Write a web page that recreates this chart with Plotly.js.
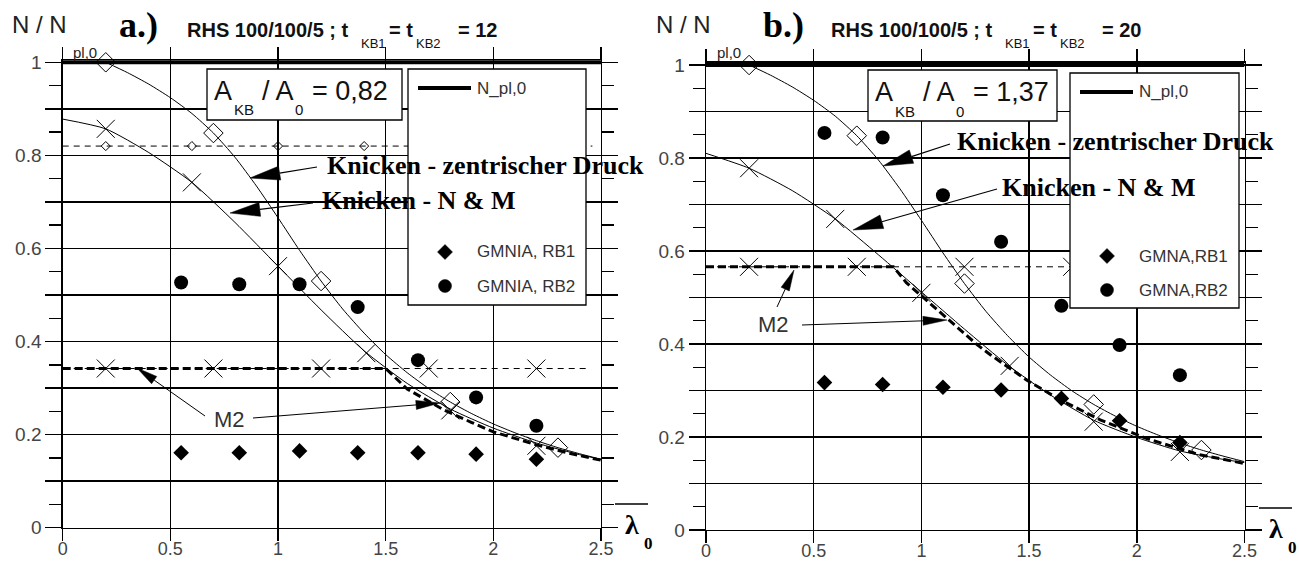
<!DOCTYPE html>
<html><head><meta charset="utf-8">
<script src="https://cdn.plot.ly/plotly-3.0.1.min.js"></script>
<style>html,body{margin:0;padding:0;background:#fff}</style>
</head><body>
<div id="chart" style="width:1299px;height:565px"></div>
<script>
// ---------------- DATA ----------------
const xTickVals = [0, 0.5, 1, 1.5, 2, 2.5];
const xTickText = ['0', '0.5', '1', '1.5', '2', '2.5'];
const yTickVals = [0, 0.1, 0.2, 0.3, 0.4, 0.5, 0.6, 0.7, 0.8, 0.9, 1];
const yTickText = ['0', '', '0.2', '', '0.4', '', '0.6', '', '0.8', '', '1'];

// N_pl,0 reference line
const nplX = [0, 2.5];
const nplY = [1, 1];

// Panel a.)  t_KB1 = t_KB2 = 12
const aZentX = [0.2,0.3,0.4,0.5,0.6,0.7,0.8,0.9,1.0,1.1,1.2,1.3,1.4,1.5,1.6,1.7,1.8,1.9,2.0,2.1,2.2,2.3,2.4,2.5];
const aZentY = [1.0,0.978,0.953,0.924,0.890,0.848,0.796,0.734,0.666,0.596,0.530,0.470,0.418,0.372,0.333,0.299,0.270,0.245,0.223,0.204,0.187,0.172,0.159,0.147];
const aZentMarkX = [0.2, 0.7, 1.2, 1.8, 2.3];
const aZentMarkY = [1.0, 0.848, 0.530, 0.270, 0.172];
const aNMX = [0,0.2,0.4,0.6,0.8,1.0,1.2,1.4,1.6,1.8,2.0,2.2,2.4,2.5];
const aNMY = [0.878,0.857,0.806,0.742,0.656,0.562,0.468,0.380,0.310,0.255,0.214,0.182,0.157,0.147];
const aNMMarkX = [0.2, 0.6, 1.0, 1.41, 1.8, 2.2];
const aNMMarkY = [0.857, 0.742, 0.562, 0.375, 0.252, 0.176];
const aM2Level = 0.342;
const aM2X = [0, 1.5, 1.6, 1.77, 1.9, 2.0, 2.2, 2.35, 2.5];
const aM2Y = [0.342, 0.342, 0.298, 0.253, 0.226, 0.206, 0.178, 0.160, 0.145];
const aM2MarkX = [0.2, 0.7, 1.2, 1.7, 2.2];
const aRatio = 0.82;
const aRatioMarkX = [0.2, 0.6, 1.0, 1.4];
const aRB1X = [0.55, 0.82, 1.1, 1.37, 1.65, 1.92, 2.2];
const aRB1Y = [0.161, 0.161, 0.165, 0.161, 0.161, 0.158, 0.147];
const aRB2X = [0.55, 0.82, 1.1, 1.37, 1.65, 1.92, 2.2];
const aRB2Y = [0.527, 0.523, 0.523, 0.474, 0.360, 0.280, 0.219];

// Panel b.)  t_KB1 = t_KB2 = 20
const bZentX = [0.2,0.3,0.4,0.5,0.6,0.7,0.8,0.9,1.0,1.1,1.2,1.3,1.4,1.5,1.6,1.7,1.8,1.9,2.0,2.1,2.2,2.3,2.4,2.5];
const bZentY = [1.0,0.978,0.953,0.924,0.890,0.848,0.796,0.734,0.666,0.596,0.530,0.470,0.418,0.372,0.333,0.299,0.270,0.245,0.223,0.204,0.187,0.172,0.159,0.147];
const bZentMarkX = [0.2, 0.7, 1.2, 1.8, 2.3];
const bZentMarkY = [1.0, 0.848, 0.530, 0.270, 0.172];
const bNMX = [0,0.2,0.4,0.6,0.8,1.0,1.2,1.4,1.6,1.8,2.0,2.2,2.4,2.5];
const bNMY = [0.810,0.778,0.730,0.669,0.592,0.512,0.432,0.355,0.290,0.236,0.199,0.170,0.152,0.145];
const bNMMarkX = [0.2, 0.6, 1.0, 1.41, 1.8, 2.2];
const bNMMarkY = [0.778, 0.669, 0.510, 0.353, 0.233, 0.168];
const bM2Level = 0.566;
const bM2X = [0, 0.87, 0.93, 1.04, 1.15, 1.26, 1.32, 1.49, 1.64, 1.83, 2.05, 2.29, 2.5];
const bM2Y = [0.566, 0.566, 0.532, 0.487, 0.441, 0.398, 0.377, 0.322, 0.281, 0.237, 0.196, 0.162, 0.143];
const bM2MarkX = [0.2, 0.7, 1.2, 1.7];
const bRB1X = [0.55, 0.82, 1.1, 1.37, 1.65, 1.92, 2.2];
const bRB1Y = [0.317, 0.313, 0.307, 0.301, 0.283, 0.235, 0.188];
const bRB2X = [0.55, 0.82, 1.1, 1.37, 1.65, 1.92, 2.2];
const bRB2Y = [0.854, 0.844, 0.720, 0.620, 0.482, 0.398, 0.333];

// ---------------- TRACES ----------------
const BLK = '#000';
function panelTraces(xa, ya, p) {
  const t = [];
  const base = {xaxis: xa, yaxis: ya, hoverinfo: 'skip', showlegend: false};
  t.push(Object.assign({}, base, {x: nplX, y: nplY, mode: 'lines', line: {color: BLK, width: 4}}));
  if (p.ratio !== undefined) {
    t.push(Object.assign({}, base, {x: [0, 2.46], y: [p.ratio, p.ratio], mode: 'lines', line: {color: BLK, width: 1, dash: '6px,5px'}}));
    t.push(Object.assign({}, base, {x: p.ratioMarkX, y: p.ratioMarkX.map(() => p.ratio), mode: 'markers', cliponaxis: false,
      marker: {symbol: 'diamond-open', size: 7, color: BLK, line: {width: 1, color: BLK}}}));
  }
  t.push(Object.assign({}, base, {x: [0, 2.45], y: [p.m2Level, p.m2Level], mode: 'lines', line: {color: BLK, width: 1, dash: '6px,5px'}}));
  t.push(Object.assign({}, base, {x: p.m2MarkX, y: p.m2MarkX.map(() => p.m2Level), mode: 'markers', cliponaxis: false,
    marker: {symbol: 'x-thin-open', size: 18, color: BLK, line: {width: 1, color: BLK}}}));
  t.push(Object.assign({}, base, {x: p.m2X, y: p.m2Y, mode: 'lines', line: {color: BLK, width: 3, dash: '8px,4px'}}));
  t.push(Object.assign({}, base, {x: p.zentX, y: p.zentY, mode: 'lines', line: {color: BLK, width: 1, shape: 'spline', smoothing: 0.6}}));
  t.push(Object.assign({}, base, {x: p.zentMarkX, y: p.zentMarkY, mode: 'markers', cliponaxis: false,
    marker: {symbol: 'diamond-open', size: 15, color: BLK, line: {width: 1, color: BLK}}}));
  t.push(Object.assign({}, base, {x: p.nmX, y: p.nmY, mode: 'lines', line: {color: BLK, width: 1, shape: 'spline', smoothing: 0.6}}));
  t.push(Object.assign({}, base, {x: p.nmMarkX, y: p.nmMarkY, mode: 'markers', cliponaxis: false,
    marker: {symbol: 'x-thin-open', size: 18, color: BLK, line: {width: 1, color: BLK}}}));
  t.push(Object.assign({}, base, {x: p.rb1X, y: p.rb1Y, mode: 'markers', cliponaxis: false,
    marker: {symbol: 'diamond', size: 12, color: BLK}}));
  t.push(Object.assign({}, base, {x: p.rb2X, y: p.rb2Y, mode: 'markers', cliponaxis: false,
    marker: {symbol: 'circle', size: 14, color: BLK}}));
  return t;
}

const traces = [].concat(
  panelTraces('x', 'y', {ratio: aRatio, ratioMarkX: aRatioMarkX, m2Level: aM2Level, m2MarkX: aM2MarkX, m2X: aM2X, m2Y: aM2Y,
    zentX: aZentX, zentY: aZentY, zentMarkX: aZentMarkX, zentMarkY: aZentMarkY, nmX: aNMX, nmY: aNMY,
    nmMarkX: aNMMarkX, nmMarkY: aNMMarkY, rb1X: aRB1X, rb1Y: aRB1Y, rb2X: aRB2X, rb2Y: aRB2Y}),
  panelTraces('x2', 'y2', {m2Level: bM2Level, m2MarkX: bM2MarkX, m2X: bM2X, m2Y: bM2Y,
    zentX: bZentX, zentY: bZentY, zentMarkX: bZentMarkX, zentMarkY: bZentMarkY, nmX: bNMX, nmY: bNMY,
    nmMarkX: bNMMarkX, nmMarkY: bNMMarkY, rb1X: bRB1X, rb1Y: bRB1Y, rb2X: bRB2X, rb2Y: bRB2Y})
);

// ---------------- LAYOUT ----------------
const W = 1299, H = 565;
const PX = x => x / W, PY = y => 1 - y / H;
const xTickFont = {family: 'Liberation Sans, Arial, sans-serif', size: 18, color: '#444'};
const yTickFont = {family: 'Liberation Sans, Arial, sans-serif', size: 19, color: '#444'};

function xAxis(domain, anchor) {
  return {domain, anchor, range: [0, 2.5], tickmode: 'array', tickvals: xTickVals, ticktext: xTickText,
    ticks: 'outside', ticklen: 12, tickwidth: 1.4, tickcolor: BLK, ticklabelstandoff: -8,
    showgrid: true, gridcolor: BLK, gridwidth: 1.4,
    showline: true, linecolor: BLK, linewidth: 1.4, mirror: 'ticks', zeroline: false, tickfont: xTickFont, fixedrange: true};
}
function yAxis(domain, anchor) {
  return {domain, anchor, range: [0, 1.005], tickmode: 'array', tickvals: yTickVals, ticktext: yTickText,
    ticks: 'outside', ticklen: 16, tickwidth: 1.4, tickcolor: BLK, showgrid: true, gridcolor: BLK, gridwidth: 1.4,
    minor: {tickmode: 'linear', tick0: 0, dtick: 0.05, ticks: 'outside', ticklen: 12, tickwidth: 1.4, tickcolor: BLK, showgrid: false},
    showline: true, linecolor: BLK, linewidth: 1.4, mirror: 'ticks', zeroline: false, tickfont: yTickFont, fixedrange: true};
}

const annotations = [], shapes = [];
const SANS = 'Liberation Sans, Arial, sans-serif';
const SERIF = 'Liberation Serif, Times New Roman, serif';
function label(x, y, text, size, family, color, xanchor) {
  annotations.push({xref: 'paper', yref: 'paper', x: PX(x), y: PY(y), text, showarrow: false,
    xanchor: xanchor || 'left', yanchor: 'middle', borderpad: 0, font: {family, size, color: color || '#000'}});
}
function rect(x0, y0, x1, y1) {
  shapes.push({type: 'rect', xref: 'paper', yref: 'paper', x0: PX(x0), y0: PY(y0), x1: PX(x1), y1: PY(y1),
    fillcolor: '#fff', line: {color: BLK, width: 1.3}, layer: 'above'});
}
function hline(x0, x1, y, w) {
  shapes.push({type: 'line', xref: 'paper', yref: 'paper', x0: PX(x0), y0: PY(y), x1: PX(x1), y1: PY(y),
    line: {color: BLK, width: w}, layer: 'above'});
}
function diamondKey(cx, cy, r) {
  shapes.push({type: 'path', xref: 'paper', yref: 'paper', layer: 'above', fillcolor: BLK, line: {color: BLK, width: 0.5},
    path: `M${PX(cx)},${PY(cy - r)} L${PX(cx + r)},${PY(cy)} L${PX(cx)},${PY(cy + r)} L${PX(cx - r)},${PY(cy)} Z`});
}
function circleKey(cx, cy, r) {
  shapes.push({type: 'circle', xref: 'paper', yref: 'paper', layer: 'above', fillcolor: BLK, line: {color: BLK, width: 0.5},
    x0: PX(cx - r), x1: PX(cx + r), y0: PY(cy + r), y1: PY(cy - r)});
}
function arrow(tx, ty, hx, hy, len, half, lw) {
  const dx = hx - tx, dy = hy - ty, d = Math.hypot(dx, dy), ux = dx / d, uy = dy / d;
  const bx = hx - ux * len, by = hy - uy * len;
  shapes.push({type: 'line', xref: 'paper', yref: 'paper', layer: 'above', x0: PX(tx), y0: PY(ty), x1: PX(bx), y1: PY(by),
    line: {color: BLK, width: lw}});
  const p1 = [bx - uy * half, by + ux * half], p2 = [bx + uy * half, by - ux * half];
  shapes.push({type: 'path', xref: 'paper', yref: 'paper', layer: 'above', fillcolor: BLK, line: {color: BLK, width: 0.5},
    path: `M${PX(hx)},${PY(hy)} L${PX(p1[0])},${PY(p1[1])} L${PX(p2[0])},${PY(p2[1])} Z`});
}

function panelDecor(o, p) {
  label(11 + o.h, 24, 'N / N', 24, SANS, '#222');
  label(72 + o.h, 52, 'pl,0', 15, SANS, '#222');
  label(118 + o.h, 25, '<b>' + p.tag + '</b>', 36, SERIF);
  label(186 + o.h, 30, '<b>RHS 100/100/5 ; t</b>', 20, SANS, '#111');
  label(360 + o.h, 44, 'KB1', 13, SANS, '#111');
  label(388 + o.h, 30, '<b>= t</b>', 20, SANS, '#111');
  label(415 + o.h, 44, 'KB2', 13, SANS, '#111');
  label(457 + o.h, 30, '<b>= ' + p.t + '</b>', 20, SANS, '#111');
  rect(p.box[0], p.box[1], p.box[2], p.box[3]);
  const bx = p.box[0], cy = p.box[1] + 22, sy = p.box[1] + 41;
  label(bx + 6, cy, 'A', 27, SANS, '#111');
  label(bx + 26, sy, 'KB', 15, SANS, '#111');
  label(bx + 54, cy, '/ A', 27, SANS, '#111');
  label(bx + 87, sy, '0', 15, SANS, '#111');
  label(bx + 104, cy, '= ' + p.ratio, 27, SANS, '#111');
  const L = p.leg;
  rect(L[0], L[1], L[2], L[3]);
  hline(L[0] + 10, L[0] + 63, L[1] + 19, 4);
  label(L[0] + 68, L[1] + 19, 'N_pl,0', 17, SANS, '#333');
  diamondKey(L[0] + 37, L[1] + 183, 7.5);
  label(L[0] + 68, L[1] + 183, p.rb1, 17, SANS, '#333');
  circleKey(L[0] + 37, L[1] + 217, 6.5);
  label(L[0] + 68, L[1] + 217, p.rb2, 17, SANS, '#333');
  arrow(p.zArr[0], p.zArr[1], p.zArr[2], p.zArr[3], 30, 7, 1.2);
  arrow(p.nArr[0], p.nArr[1], p.nArr[2], p.nArr[3], 30, 7, 1.2);
  arrow(p.m1Arr[0], p.m1Arr[1], p.m1Arr[2], p.m1Arr[3], 21, 4.5, 1);
  arrow(p.m2Arr[0], p.m2Arr[1], p.m2Arr[2], p.m2Arr[3], 24, 4.5, 1);
  label(p.zTxt[0], p.zTxt[1], '<b>Knicken - zentrischer Druck</b>', 26, SERIF);
  label(p.nTxt[0], p.nTxt[1], '<b>Knicken - N &amp; M</b>', 26, SERIF);
  label(p.mTxt[0], p.mTxt[1], 'M2', 22, SANS, '#333', 'center');
  hline(p.lam[0], p.lam[0] + 33, p.lam[1], 1.5);
  label(p.lam[0] + 9, p.lam[1] + 20, '<b>λ</b>', 28, SERIF);
  label(p.lam[0] + 28, p.lam[1] + 39, '<b>0</b>', 17, SERIF);
}

panelDecor({h: 0}, {tag: 'a.)', t: '12', ratio: '0,82', box: [207, 69, 402, 120], leg: [408, 69, 586, 305],
  rb1: 'GMNIA, RB1', rb2: 'GMNIA, RB2',
  zArr: [317, 167, 250, 178], nArr: [313, 203, 230, 213], m1Arr: [205, 416, 137, 368], m2Arr: [253, 418, 440, 403],
  zTxt: [326, 165], nTxt: [321, 200], mTxt: [229, 419], lam: [615, 504]});
panelDecor({h: 644}, {tag: 'b.)', t: '20', ratio: '1,37', box: [868, 70, 1057, 121], leg: [1070, 73, 1239, 308],
  rb1: 'GMNA,RB1', rb2: 'GMNA,RB2',
  zArr: [950, 144, 883, 166], nArr: [997, 189, 853, 230], m1Arr: [777, 307, 794, 270], m2Arr: [802, 325, 947, 320],
  zTxt: [956, 141], nTxt: [1001, 187], mTxt: [773, 324], lam: [1259, 508]});

const layout = {
  width: W, height: H, margin: {l: 0, r: 0, t: 0, b: 0}, showlegend: false,
  paper_bgcolor: '#fff', plot_bgcolor: '#fff',
  xaxis: xAxis([62.7 / W, 601 / W], 'y'),
  yaxis: yAxis([(H - 527.7) / H, (H - 59.97) / H], 'x'),
  xaxis2: xAxis([706 / W, 1244.5 / W], 'y2'),
  yaxis2: yAxis([(H - 530) / H, (H - 62.67) / H], 'x2'),
  annotations, shapes
};

Plotly.newPlot('chart', traces, layout, {staticPlot: true, displayModeBar: false});
</script>
</body></html>
